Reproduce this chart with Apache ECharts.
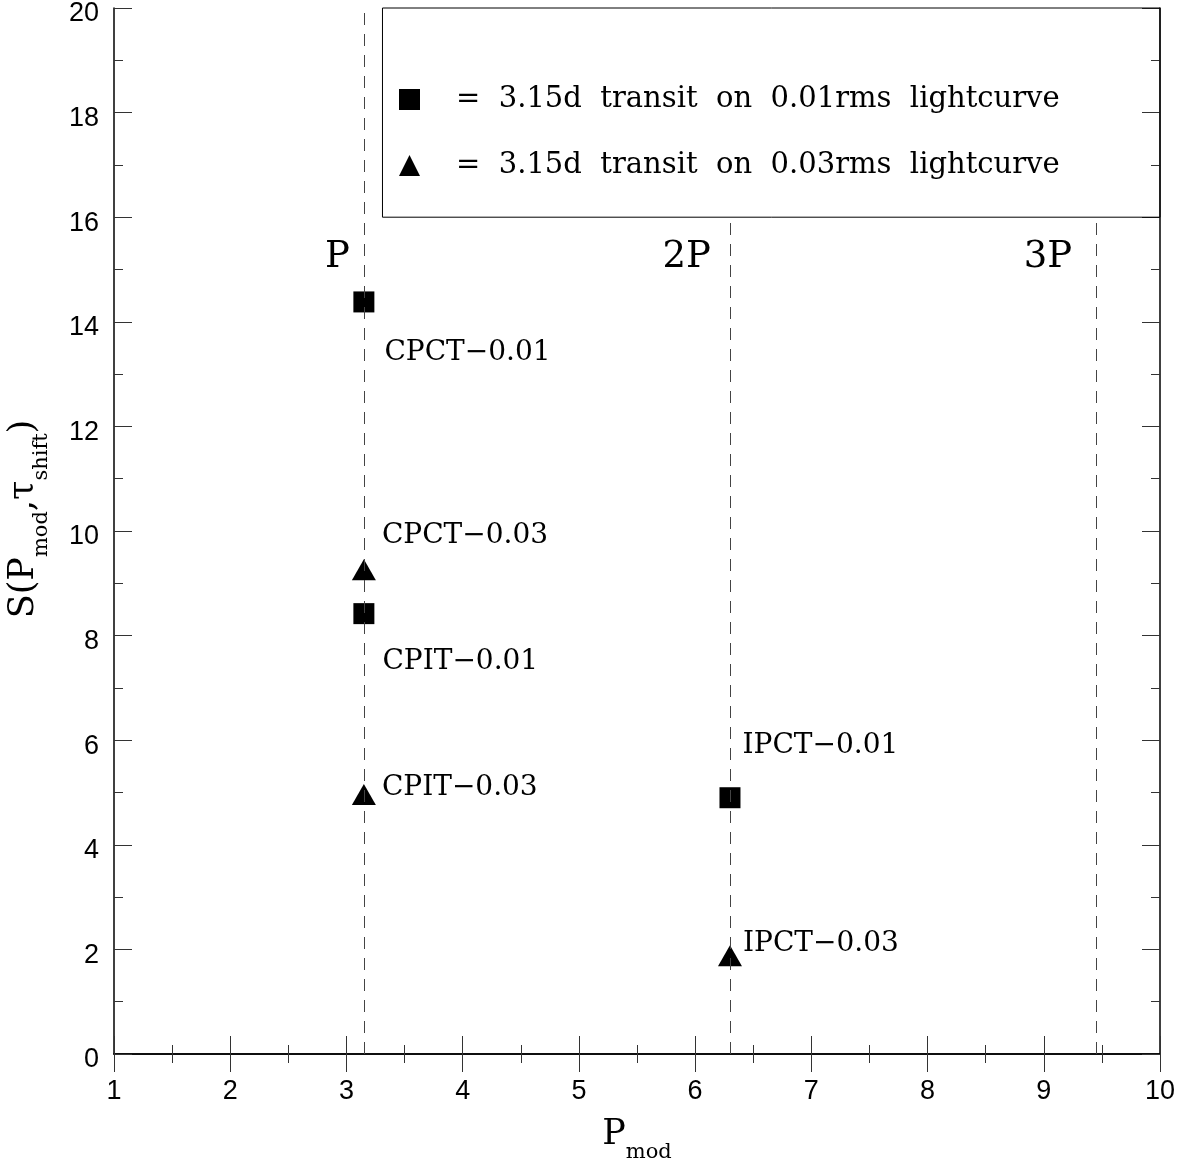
<!DOCTYPE html>
<html><head><meta charset="utf-8">
<script src="https://cdn.jsdelivr.net/npm/echarts@6/dist/echarts.min.js"></script>
<style>html,body{margin:0;padding:0;background:#fff}#c{width:1185px;height:1159px}</style>
</head><body><div id="c"></div>
<script>
// ---- data ----
const xTicks = [1, 2, 3, 4, 5, 6, 7, 8, 9, 10];
const yTicks = [0, 2, 4, 6, 8, 10, 12, 14, 16, 18, 20];
const name01 = '=  3.15d  transit  on  0.01rms  lightcurve';
const name03 = '=  3.15d  transit  on  0.03rms  lightcurve';
const labels01 = ['CPCT−0.01', 'CPIT−0.01', 'IPCT−0.01'];
const pmod01 = [3.15, 3.15, 6.3];
const s01 = [14.38, 8.42, 4.90];
const labels03 = ['CPCT−0.03', 'CPIT−0.03', 'IPCT−0.03'];
const pmod03 = [3.15, 3.15, 6.3];
const s03 = [9.26, 4.96, 1.88];
const periodMarks = [3.15, 6.3, 9.45];
const periodNames = ['P', '2P', '3P'];
const periodLineTop = [20, 16, 16];
const periodLabelLevel = 15.24;
const legendBoxX = [3.31, 10];
const legendBoxY = [16, 20];

// ---- styles ----
const SERIF = 'DejaVu Serif';
const SANS = 'Liberation Sans';
const labelOffsets = {
  'CPCT−0.01': [10, 51], 'CPIT−0.01': [8, 48], 'IPCT−0.01': [2, -52],
  'CPCT−0.03': [6, -34], 'CPIT−0.03': [6, -7], 'IPCT−0.03': [1, -12]
};
const periodLabelGap = [14, 19, 24];
const pointLabel = { show: true, position: 'right', distance: 0, fontFamily: SERIF, fontSize: 28, color: '#000' };

function pts(xs, ys, labs) {
  return xs.map((x, i) => ({ value: [x, ys[i]], name: labs[i], label: { offset: labelOffsets[labs[i]], formatter: labs[i] } }));
}

const nameRich = {
  m: { fontFamily: SERIF, fontSize: 35, color: '#000' },
  s: { fontFamily: SERIF, fontSize: 21, color: '#000', padding: [36, 0, 0, 0] }
};

const axisLineStyle = { show: true, lineStyle: { color: '#000', width: 1.5 } };
const tickStyle = { show: true, inside: true, length: 18, lineStyle: { color: '#333', width: 1 } };
const minorStyle = { show: true, splitNumber: 2, length: 9, lineStyle: { color: '#333', width: 1 } };

const xMin = xTicks[0], xMax = xTicks[xTicks.length - 1], xInt = xTicks[1] - xTicks[0];
const yMin = yTicks[0], yMax = yTicks[yTicks.length - 1], yInt = yTicks[1] - yTicks[0];

const chart = echarts.init(document.getElementById('c'), null, { renderer: 'canvas' });
chart.setOption({
  animation: false,
  backgroundColor: '#fff',
  grid: { left: 114, right: 25, top: 8, bottom: 105, containLabel: false, outerBoundsMode: 'none' },
  legend: {
    orient: 'vertical', left: 394, top: 80, itemWidth: 21, itemHeight: 21, itemGap: 37,
    selectedMode: false,
    data: [name01, name03],
    textStyle: { fontFamily: SERIF, fontSize: 29, color: '#000', lineHeight: 21, padding: [0, 0, 0, 31] }
  },
  xAxis: [
    {
      type: 'value', min: xMin, max: xMax, interval: xInt, position: 'bottom',
      axisLine: axisLineStyle, axisTick: tickStyle, minorTick: minorStyle, splitLine: { show: false },
      axisLabel: { fontFamily: SANS, fontSize: 27, color: '#000', margin: 24 },
      name: '{m|P}{s|mod}', nameLocation: 'middle', nameGap: 52,
      nameTextStyle: { rich: nameRich }
    },
    {
      type: 'value', min: xMin, max: xMax, interval: xInt, position: 'top',
      axisLine: axisLineStyle, axisTick: tickStyle, minorTick: minorStyle, splitLine: { show: false },
      axisLabel: { show: false }
    }
  ],
  yAxis: [
    {
      type: 'value', min: yMin, max: yMax, interval: yInt, position: 'left',
      axisLine: axisLineStyle, axisTick: tickStyle, minorTick: minorStyle, splitLine: { show: false },
      axisLabel: { fontFamily: SANS, fontSize: 27, color: '#000', margin: 15, verticalAlign: 'top', lineHeight: 12 },
      name: '{m|S(P}{s|mod}{m|,τ}{s|shift}{m|)}', nameLocation: 'middle', nameGap: 62, nameRotate: 90,
      nameTextStyle: { rich: nameRich, padding: [0, 0, 0, 24] }
    },
    {
      type: 'value', min: yMin, max: yMax, interval: yInt, position: 'right',
      axisLine: axisLineStyle, axisTick: tickStyle, minorTick: minorStyle, splitLine: { show: false },
      axisLabel: { show: false }
    }
  ],
  series: [
    {
      name: 'refs', type: 'scatter',
      data: periodMarks.map((p, i) => ({ value: [p, periodLabelLevel], name: periodNames[i], label: { distance: periodLabelGap[i] } })),
      symbolSize: 0, silent: true, z: 1, itemStyle: { opacity: 1 },
      label: { show: true, position: 'left', distance: 19, formatter: '{b}', fontFamily: SERIF, fontSize: 37, color: '#000' },
      markLine: {
        silent: true, symbol: ['none', 'none'], label: { show: false },
        lineStyle: { type: [12, 9], color: '#444', width: 1 },
        data: periodMarks.map((p, i) => [{ coord: [p, yMin] }, { coord: [p, periodLineTop[i]] }])
      },
      markArea: {
        silent: true,
        itemStyle: { color: 'rgba(255,255,255,0)', borderColor: '#000', borderWidth: 1 },
        data: [[{ coord: [legendBoxX[0], legendBoxY[0]] }, { coord: [legendBoxX[1], legendBoxY[1]] }]]
      }
    },
    {
      name: name01, type: 'scatter', symbol: 'rect', symbolSize: [21, 21], z: 3,
      itemStyle: { color: '#000', opacity: 1 }, label: pointLabel,
      data: pts(pmod01, s01, labels01)
    },
    {
      name: name03, type: 'scatter', symbol: 'triangle', symbolSize: [24, 21], z: 3,
      itemStyle: { color: '#000', opacity: 1 }, label: pointLabel,
      data: pts(pmod03, s03, labels03)
    }
  ]
});
</script></body></html>
